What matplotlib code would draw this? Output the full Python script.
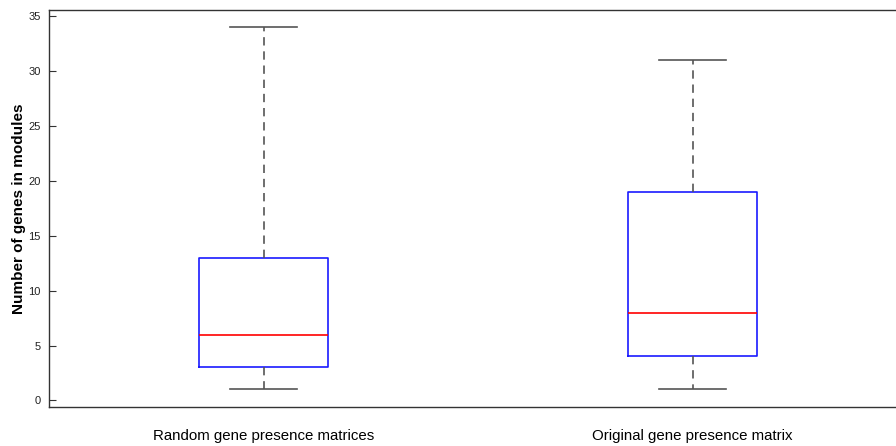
import matplotlib
matplotlib.use("Agg")
import matplotlib.pyplot as plt

plt.rcParams['font.family'] = ['Liberation Sans', 'DejaVu Sans']

categories = ["Random gene presence matrices", "Original gene presence matrix"]
whisker_low = [1, 1]
q1 = [3, 4]
median = [6, 8]
q3 = [13, 19]
whisker_high = [34, 31]
yticks = [0, 5, 10, 15, 20, 25, 30, 35]

fig = plt.figure(figsize=(8.96, 4.46), dpi=100)
ax = fig.add_axes([49/896, 1-407/446, 858/896, 397/446])

stats = []
for i, lab in enumerate(categories):
    stats.append(dict(label=lab, whislo=whisker_low[i], q1=q1[i], med=median[i],
                      q3=q3[i], whishi=whisker_high[i], fliers=[]))

ax.bxp(stats, positions=[1, 2], widths=0.3, showfliers=False,
       boxprops=dict(color='#1a1aff', linewidth=1.2),
       medianprops=dict(color='#ff0000', linewidth=1.2),
       whiskerprops=dict(color='#555555', linewidth=1.2, linestyle=(0, (5, 3.5))),
       capprops=dict(color='#555555', linewidth=1.2),
       capwidths=0.154)

ax.set_xlim(0.5, 2.5)
ax.set_ylim(-0.6, 35.55)
ax.set_yticks(yticks)
ax.set_yticklabels([str(t) for t in yticks], fontsize=8, color='#222222')
ax.tick_params(axis='y', direction='in', length=5, color='#333333', pad=6)
ax.tick_params(axis='x', length=0, pad=16, labelsize=10.8)
ax.set_xticks([1, 2])
ax.set_xticklabels(categories)
ax.set_ylabel("Number of genes in modules", fontsize=11, fontweight='bold', labelpad=2)
for s in ax.spines.values():
    s.set_color('#333333')
    s.set_linewidth(1.0)

fig.savefig("out.png", dpi=100)
